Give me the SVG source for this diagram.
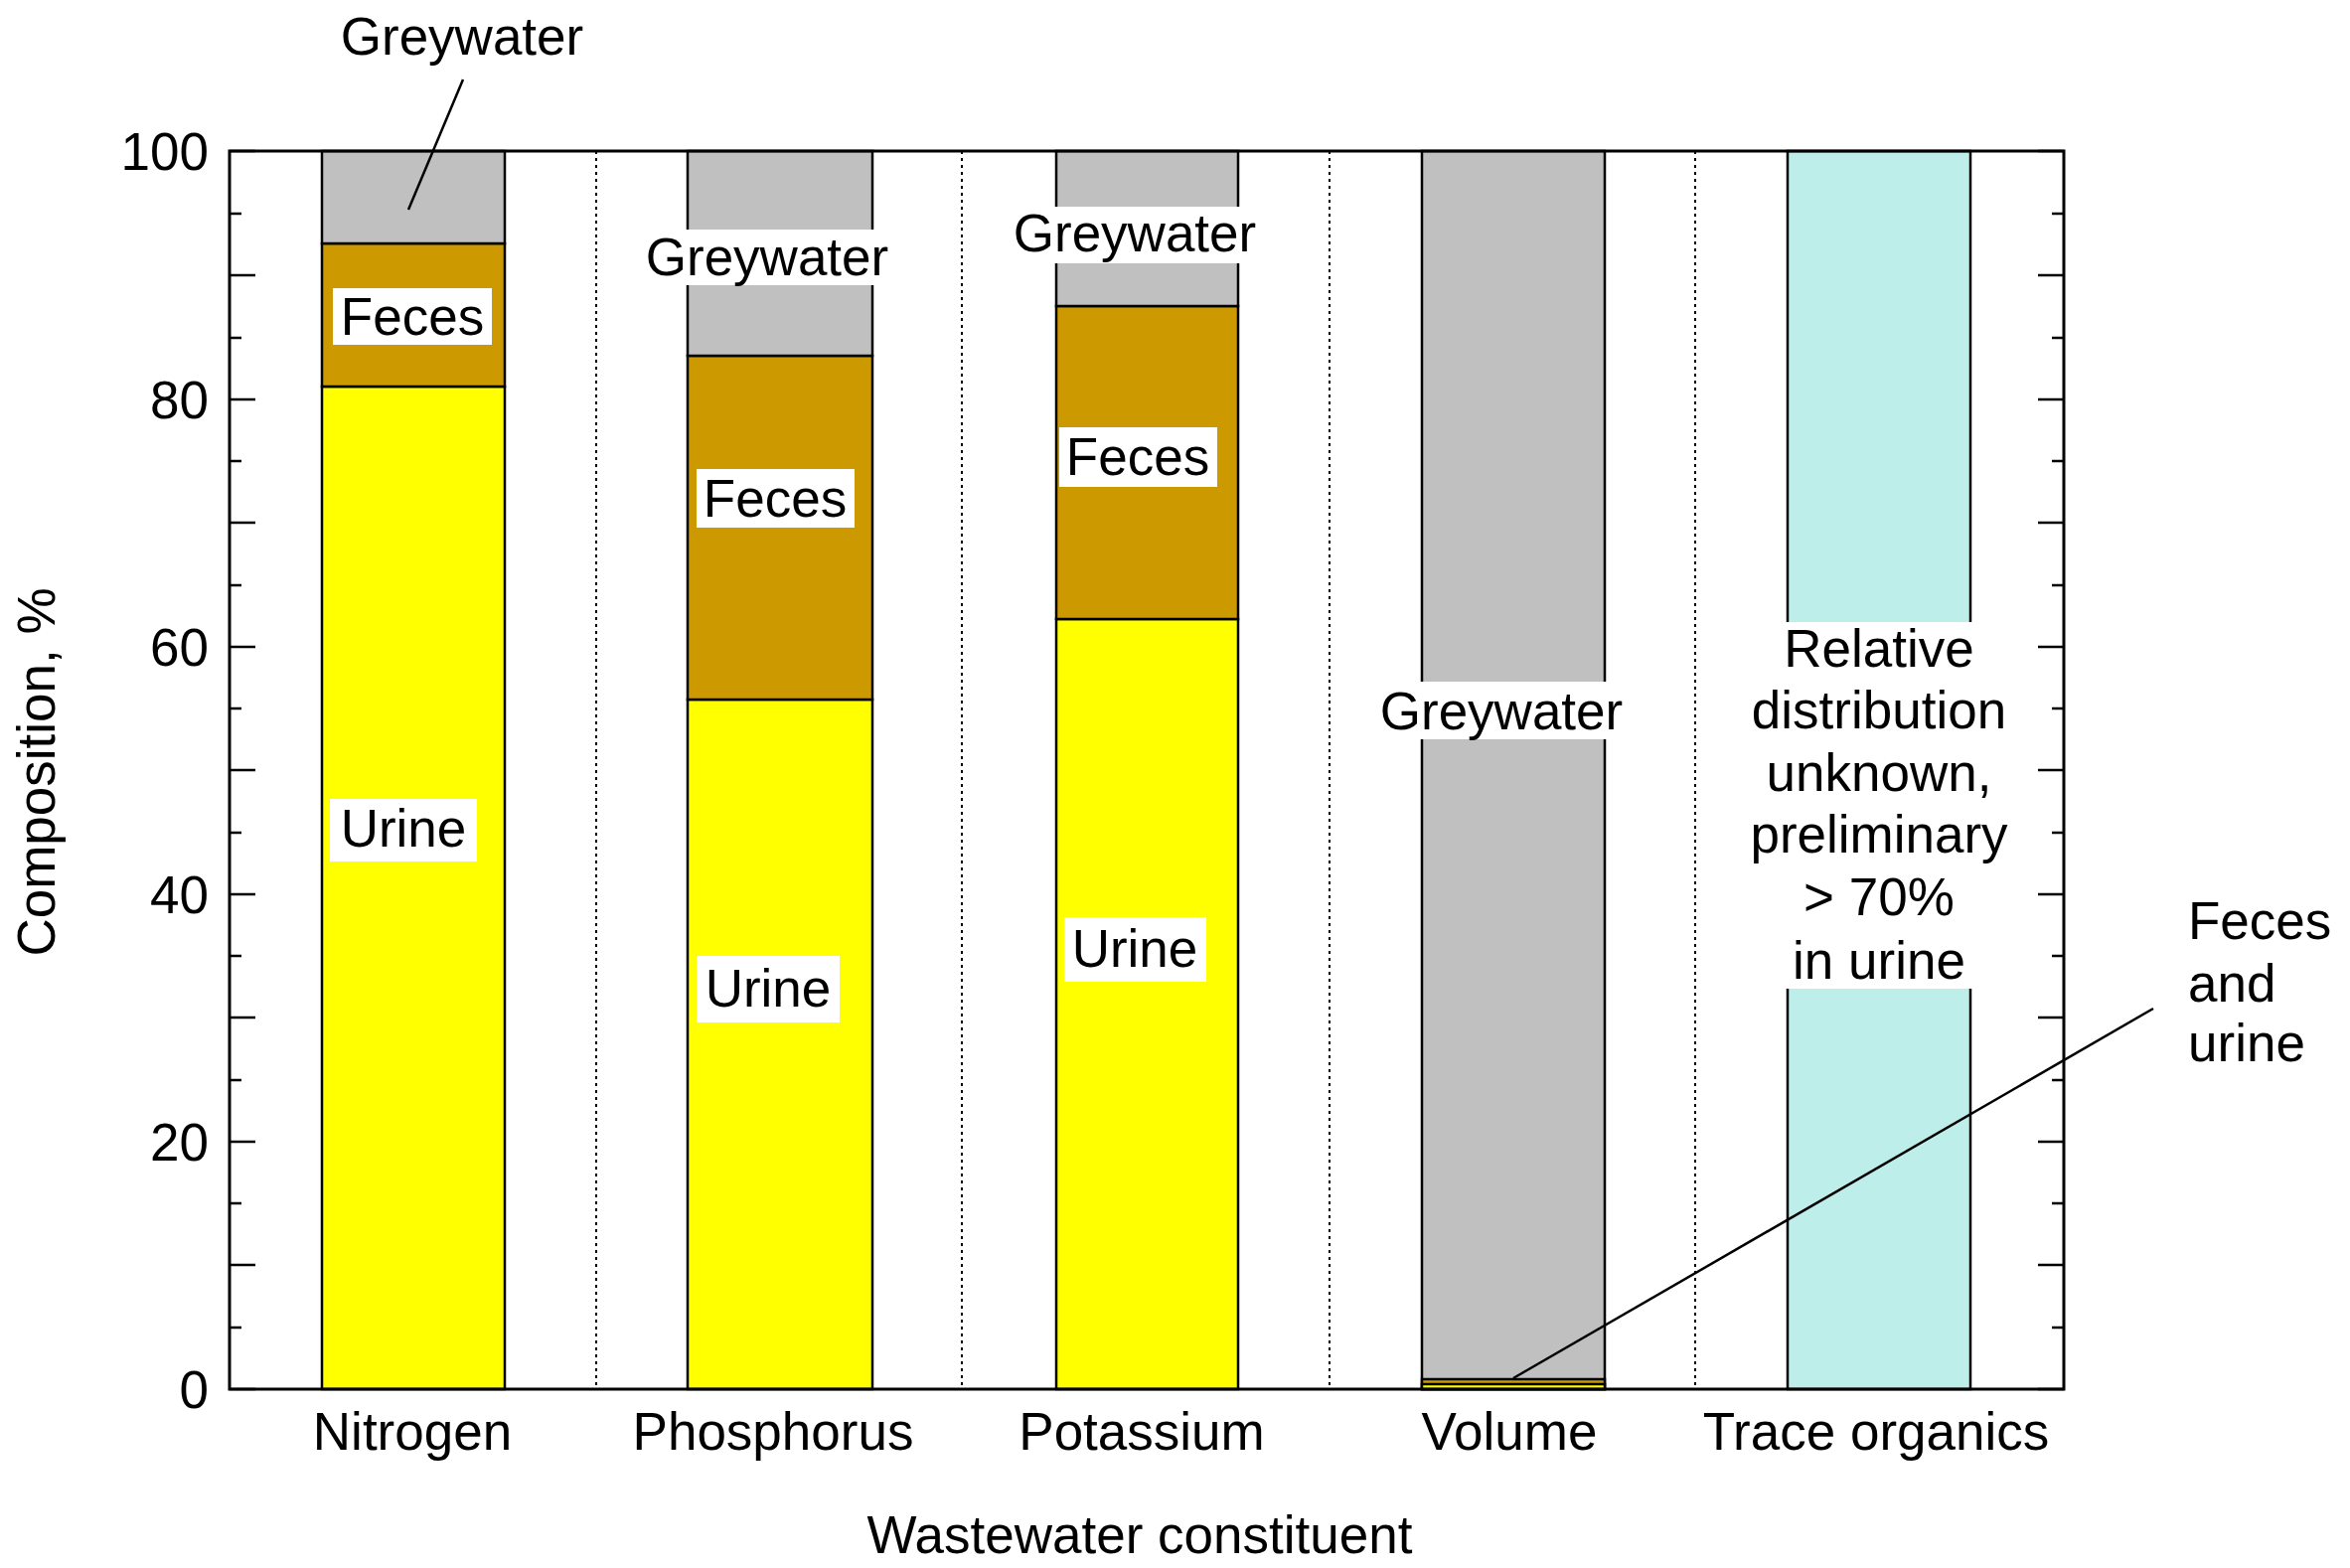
<svg xmlns="http://www.w3.org/2000/svg" width="2365" height="1578" viewBox="0 0 2365 1578">
<style>
text{font-family:"Liberation Sans",Arial,sans-serif;font-size:53px;fill:#000}
.m{text-anchor:middle}
.bar{stroke:#000;stroke-width:2.5}
.lb{fill:#fff}
.sep{stroke:#000;stroke-width:2;stroke-dasharray:3,4}
.tk{stroke:#000;stroke-width:2.5}
</style>
<rect width="2365" height="1578" fill="#fff"/>
<g id="separators">
<line class="sep" x1="600" y1="152" x2="600" y2="1398"/>
<line class="sep" x1="968" y1="152" x2="968" y2="1398"/>
<line class="sep" x1="1338" y1="152" x2="1338" y2="1398"/>
<line class="sep" x1="1706" y1="152" x2="1706" y2="1398"/>
</g>
<g id="nitrogen">
<rect class="bar" x="324" y="389" width="184" height="1009" fill="#ffff00"/>
<rect class="bar" x="324" y="245" width="184" height="144" fill="#cc9900"/>
<rect class="bar" x="324" y="152" width="184" height="93" fill="#c0c0c0"/>
<rect class="lb" x="335" y="290" width="160" height="57"/>
<text class="m" x="415" y="337">Feces</text>
<rect class="lb" x="332" y="804" width="148" height="63"/>
<text class="m" x="406" y="852">Urine</text>
</g>
<g id="phosphorus">
<rect class="bar" x="692" y="704" width="186" height="694" fill="#ffff00"/>
<rect class="bar" x="692" y="358" width="186" height="346" fill="#cc9900"/>
<rect class="bar" x="692" y="152" width="186" height="206" fill="#c0c0c0"/>
<rect class="lb" x="641" y="231" width="261" height="56"/>
<text class="m" x="772" y="277">Greywater</text>
<rect class="lb" x="701" y="472" width="159" height="59"/>
<text class="m" x="780" y="520">Feces</text>
<rect class="lb" x="701" y="962" width="144" height="67"/>
<text class="m" x="773" y="1013">Urine</text>
</g>
<g id="potassium">
<rect class="bar" x="1063" y="623" width="183" height="775" fill="#ffff00"/>
<rect class="bar" x="1063" y="308" width="183" height="315" fill="#cc9900"/>
<rect class="bar" x="1063" y="152" width="183" height="156" fill="#c0c0c0"/>
<rect class="lb" x="1008" y="208" width="266" height="57"/>
<text class="m" x="1142" y="253">Greywater</text>
<rect class="lb" x="1066" y="430" width="159" height="60"/>
<text class="m" x="1145" y="478">Feces</text>
<rect class="lb" x="1071" y="923" width="143" height="65"/>
<text class="m" x="1142" y="973">Urine</text>
</g>
<g id="volume">
<rect class="bar" x="1431" y="152" width="184" height="1246" fill="#c0c0c0"/>
<rect class="bar" x="1431" y="1388" width="184" height="10" fill="#cc9900"/>
<rect class="bar" x="1431" y="1393" width="184" height="5" fill="#ffff00"/>
<rect class="lb" x="1380" y="686" width="264" height="58"/>
<text class="m" x="1511" y="734">Greywater</text>
</g>
<g id="trace">
<rect class="bar" x="1799" y="152" width="184" height="1246" fill="#bdeeea"/>
<rect class="lb" x="1757" y="626" width="272" height="369"/>
<text class="m" x="1891" y="671">Relative</text>
<text class="m" x="1891" y="733">distribution</text>
<text class="m" x="1891" y="796">unknown,</text>
<text class="m" x="1891" y="858">preliminary</text>
<text class="m" x="1891" y="921">&gt; 70%</text>
<text class="m" x="1891" y="985">in urine</text>
</g>
<g id="top-greywater">
<text class="m" x="465" y="55">Greywater</text>
</g>
<g id="feces-urine">
<text x="2202" y="945">Feces</text>
<text x="2202" y="1008">and</text>
<text x="2202" y="1068">urine</text>
</g>
<g id="connectors" stroke="#000" stroke-width="2.5" fill="none">
<line x1="466" y1="80" x2="411" y2="211"/>
<line x1="1523" y1="1387" x2="2167" y2="1015"/>
</g>
<g id="axes">
<rect x="231" y="152" width="1846" height="1246" fill="none" stroke="#000" stroke-width="3"/>
<path class="tk" fill="none" d="M231 1398h26M231 1273h26M231 1149h26M231 1024h26M231 900h26M231 775h26M231 651h26M231 526h26M231 402h26M231 277h26M231 152h26M2077 1398h-26M2077 1273h-26M2077 1149h-26M2077 1024h-26M2077 900h-26M2077 775h-26M2077 651h-26M2077 526h-26M2077 402h-26M2077 277h-26M2077 152h-26M231 1336h12M231 1211h12M231 1087h12M231 962h12M231 838h12M231 713h12M231 589h12M231 464h12M231 340h12M231 215h12M2077 1336h-12M2077 1211h-12M2077 1087h-12M2077 962h-12M2077 838h-12M2077 713h-12M2077 589h-12M2077 464h-12M2077 340h-12M2077 215h-12"/>
<g text-anchor="end">
<text x="210" y="1417">0</text>
<text x="210" y="1168">20</text>
<text x="210" y="919">40</text>
<text x="210" y="670">60</text>
<text x="210" y="421">80</text>
<text x="210" y="171">100</text>
</g>
<text class="m" x="415" y="1459">Nitrogen</text>
<text class="m" x="778" y="1459">Phosphorus</text>
<text class="m" x="1149" y="1459">Potassium</text>
<text class="m" x="1519" y="1459">Volume</text>
<text class="m" x="1888" y="1459">Trace organics</text>
<text class="m" x="1147" y="1563">Wastewater constituent</text>
<text class="m" transform="translate(55,777) rotate(-90)">Composition, %</text>
</g>
</svg>
